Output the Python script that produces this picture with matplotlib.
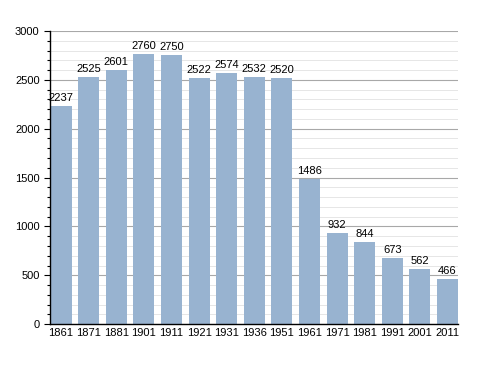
import matplotlib
matplotlib.use("Agg")
import matplotlib.pyplot as plt
from matplotlib.ticker import MultipleLocator

years = ["1861", "1871", "1881", "1901", "1911", "1921", "1931", "1936", "1951",
         "1961", "1971", "1981", "1991", "2001", "2011"]
population = [2237, 2525, 2601, 2760, 2750, 2522, 2574, 2532, 2520,
              1486, 932, 844, 673, 562, 466]

plt.rcParams['font.family'] = ['Liberation Sans', 'DejaVu Sans']

fig = plt.figure(figsize=(4.88, 3.73), dpi=100)
ax = fig.add_axes([0.1025, 0.131, 0.836, 0.786])

x = list(range(len(years)))
ax.set_axisbelow(True)
ax.yaxis.set_major_locator(MultipleLocator(500))
ax.yaxis.set_minor_locator(MultipleLocator(100))
ax.grid(which='major', axis='y', color='#a8a8a8', linewidth=0.8)
ax.grid(which='minor', axis='y', color='#e6e6e6', linewidth=0.7)

bars = ax.bar(x, population, width=0.76, color='#98b3d0')
for xi, v in zip(x, population):
    ax.text(xi, v + 30, str(v), ha='center', va='bottom', fontsize=8)

ax.set_xlim(-0.40, len(years) - 0.62)
ax.set_ylim(0, 3000)
ax.set_xticks(x)
ax.set_xticklabels(years, fontsize=8)
ax.tick_params(axis='x', length=0, pad=3)
ax.tick_params(axis='y', which='major', length=4, labelsize=8, width=0.8)
ax.tick_params(axis='y', which='minor', length=2, width=0.8)
for s in ['top', 'right']:
    ax.spines[s].set_visible(False)
ax.spines['left'].set_linewidth(1.0)
ax.spines['bottom'].set_linewidth(1.0)

fig.savefig("out.png", dpi=100)
